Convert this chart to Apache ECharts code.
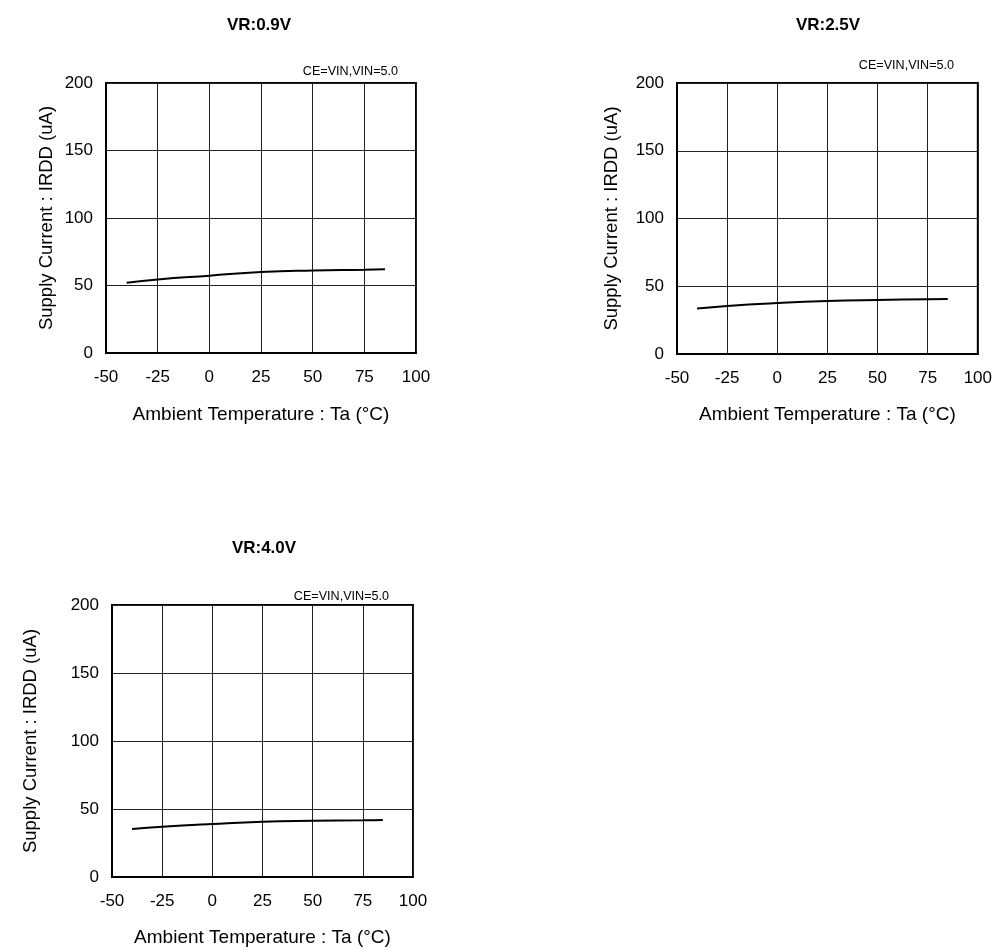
<!DOCTYPE html>
<html><head><meta charset="utf-8">
<script src="https://cdn.jsdelivr.net/npm/echarts@6/dist/echarts.min.js"></script>
<style>html,body{margin:0;padding:0;background:#fff}#c{width:995px;height:948px}</style>
</head><body><div id="c"></div>
<script>
const temps = [-40, -25, 0, 25, 50, 75, 85];
const currentVR09 = [52.1, 54.5, 57.3, 60.0, 61.2, 61.7, 62.0];
const currentVR25 = [33.6, 35.5, 37.6, 39.1, 39.9, 40.4, 40.6];
const currentVR40 = [35.3, 37.0, 39.0, 40.6, 41.3, 41.7, 42.0];
const titles = ['VR:0.9V', 'VR:2.5V', 'VR:4.0V'];
const noteText = 'CE=VIN,VIN=5.0';
const xName = 'Ambient Temperature : Ta (\u00B0C)';
const yName = 'Supply Current : IRDD (uA)';

const font = 'Liberation Sans, Arial, sans-serif';
const grids = [
  {left: 106, top: 83, width: 310, height: 270},
  {left: 677, top: 83, width: 303, height: 271},
  {left: 112, top: 605, width: 301, height: 272}
];
const xNameGaps = [52, 51, 51];
const yNameGaps = [49.5, 55.5, 71.5];
const seriesData = [currentVR09, currentVR25, currentVR40];
const titlePos = [[254, 12], [823, 12], [259, 535]];
const notePos = [[398, 65.5], [954, 59.5], [389, 590.5]];

const option = {
  backgroundColor: '#fff',
  animation: false,
  textStyle: {fontFamily: font},
  title: titles.map((t, i) => ({
    text: t, left: titlePos[i][0], top: titlePos[i][1], textAlign: 'center',
    textStyle: {fontSize: 17, fontWeight: 'bold', color: '#000', fontFamily: font}
  })),
  graphic: notePos.map(p => ({
    type: 'text', x: p[0], y: p[1],
    style: {text: noteText, textAlign: 'right', fontSize: 12.6, fill: '#000', fontFamily: font}
  })),
  grid: grids.map(g => Object.assign({show: true, borderColor: '#000', borderWidth: 2, backgroundColor: '#fff'}, g)),
  xAxis: grids.map((g, i) => ({
    type: 'value', gridIndex: i, min: -50, max: 100, interval: 25,
    name: xName, nameLocation: 'middle', nameGap: xNameGaps[i],
    nameTextStyle: {fontSize: 19, color: '#000', fontFamily: font},
    axisLine: {show: true, onZero: false, lineStyle: {color: '#000', width: 2}},
    axisTick: {show: false},
    axisLabel: {fontSize: 17, color: '#000', margin: 16, fontFamily: font},
    splitLine: {show: true, lineStyle: {color: '#222', width: 1}}
  })),
  yAxis: grids.map((g, i) => ({
    type: 'value', gridIndex: i, min: 0, max: 200, interval: 50,
    name: yName, nameLocation: 'middle', nameGap: yNameGaps[i],
    nameTextStyle: {fontSize: 18.5, color: '#000', fontFamily: font},
    axisLine: {show: true, onZero: false, lineStyle: {color: '#000', width: 2}},
    axisTick: {show: false},
    axisLabel: {fontSize: 17, color: '#000', margin: 13, fontFamily: font},
    splitLine: {show: true, lineStyle: {color: '#222', width: 1}}
  })),
  series: seriesData.map((d, i) => ({
    type: 'line', xAxisIndex: i, yAxisIndex: i, smooth: true, symbol: 'none',
    lineStyle: {color: '#000', width: 2},
    data: temps.map((t, j) => [t, d[j]])
  }))
};
echarts.init(document.getElementById('c')).setOption(option);
</script></body></html>
